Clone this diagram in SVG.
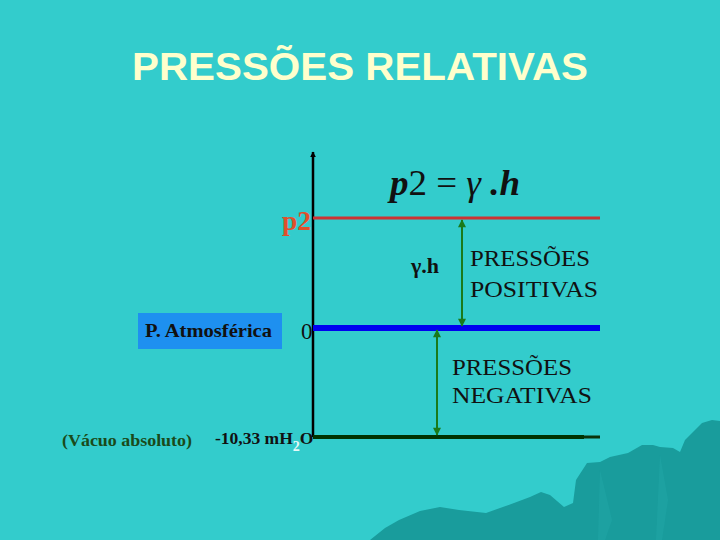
<svg xmlns="http://www.w3.org/2000/svg" width="720" height="540" viewBox="0 0 720 540">
<defs>
<marker id="arrK" viewBox="0 0 10 10" refX="9" refY="5" markerWidth="6" markerHeight="7" orient="auto-start-reverse" markerUnits="userSpaceOnUse">
<path d="M0,0 L10,5 L0,10 z" fill="#000"/>
</marker>
<marker id="arrG" viewBox="0 0 10 10" refX="9" refY="5" markerWidth="10" markerHeight="8" orient="auto-start-reverse" markerUnits="userSpaceOnUse">
<path d="M0,0 L10,5 L0,10 z" fill="#1A7A1A"/>
</marker>
<style>
.serif{font-family:"Liberation Serif","Times New Roman",serif;}
.lbl{font-size:23px;fill:#111;}
</style>
</defs>
<rect x="0" y="0" width="720" height="540" fill="#33CCCC"/>
<g id="mountain">
<path d="M370,540 L385,528 L399,520 L420,511 L440,507 L459,510 L486,513 L500,508 L514,503 L530,497 L541,492 L550,495 L564,507 L573,503 L576,480 L587,463 L600,462 L610,457 L628,453 L642,445 L653,445 L660,447 L673,448 L680,452 L685,440 L702,423 L712,420 L720,421 L720,540 Z" fill="#199C9C"/>
<path d="M600,470 L612,520 L605,540 L598,540 Z M660,455 L668,500 L662,540 L656,540 Z" fill="#20A5A5" opacity="0.6"/>
</g>
<g id="title">
<text x="132" y="80" textLength="456" lengthAdjust="spacingAndGlyphs" font-family="Liberation Sans, Arial, sans-serif" font-weight="bold" font-size="38" fill="#FFFFCC">PRESSÕES RELATIVAS</text>
</g>
<g id="connectors">
<line id="axis" x1="313" y1="437" x2="313" y2="152" stroke="#000" stroke-width="2.5" marker-end="url(#arrK)"/>
<line id="line-p2" x1="313" y1="218" x2="600" y2="218" stroke="#CC3333" stroke-width="3"/>
<line id="line-0" x1="313" y1="328" x2="600" y2="328" stroke="#0000F0" stroke-width="6"/>
<line id="line-vac" x1="313" y1="437" x2="584" y2="437" stroke="#003300" stroke-width="4"/>
<line x1="584" y1="437" x2="600" y2="437" stroke="#0A330A" stroke-width="3"/>
<line id="arr-pos" x1="462" y1="220" x2="462" y2="326" stroke="#1A7A1A" stroke-width="2" marker-start="url(#arrG)" marker-end="url(#arrG)"/>
<line id="arr-neg" x1="437" y1="330" x2="437" y2="435" stroke="#1A7A1A" stroke-width="2" marker-start="url(#arrG)" marker-end="url(#arrG)"/>
</g>
<g id="formula">
<text x="390" y="195" textLength="130" lengthAdjust="spacingAndGlyphs" class="serif" font-size="36" fill="#111"><tspan font-style="italic" font-weight="bold">p</tspan><tspan>2 = </tspan><tspan font-style="italic">γ</tspan><tspan font-style="italic" font-weight="bold"> .h</tspan></text>
</g>
<g id="label-p2">
<text x="282" y="230" textLength="29" lengthAdjust="spacingAndGlyphs" class="serif" font-weight="bold" font-size="27" fill="#E0502A">p2</text>
</g>
<g id="label-gh">
<text x="411" y="273" class="serif" font-size="22" fill="#111" font-weight="bold">γ.h</text>
</g>
<g id="positivas">
<text x="470" y="266" textLength="120" lengthAdjust="spacingAndGlyphs" class="serif lbl">PRESSÕES</text>
<text x="470" y="297" textLength="128" lengthAdjust="spacingAndGlyphs" class="serif lbl">POSITIVAS</text>
</g>
<g id="negativas">
<text x="452" y="375" textLength="120" lengthAdjust="spacingAndGlyphs" class="serif lbl">PRESSÕES</text>
<text x="452" y="403" textLength="140" lengthAdjust="spacingAndGlyphs" class="serif lbl">NEGATIVAS</text>
</g>
<g id="patm">
<rect x="138" y="313" width="144" height="36" fill="#1E90F0"/>
<text x="145" y="337" textLength="127" lengthAdjust="spacingAndGlyphs" class="serif" font-weight="bold" font-size="19" fill="#111">P. Atmosférica</text>
</g>
<g id="label-0">
<text x="301" y="339" class="serif" font-size="23" fill="#111">0</text>
</g>
<g id="vacuo">
<text x="62" y="446" textLength="130" lengthAdjust="spacingAndGlyphs" class="serif" font-weight="bold" font-size="17.5" fill="#1A4A1A">(Vácuo absoluto)</text>
</g>
<g id="label-10">
<text x="215" y="444" class="serif" font-weight="bold" font-size="17.5" fill="#111">-10,33 mH<tspan dy="7" fill="#E8F8F8" font-size="14">2</tspan><tspan dy="-7">O</tspan></text>
</g>
</svg>
